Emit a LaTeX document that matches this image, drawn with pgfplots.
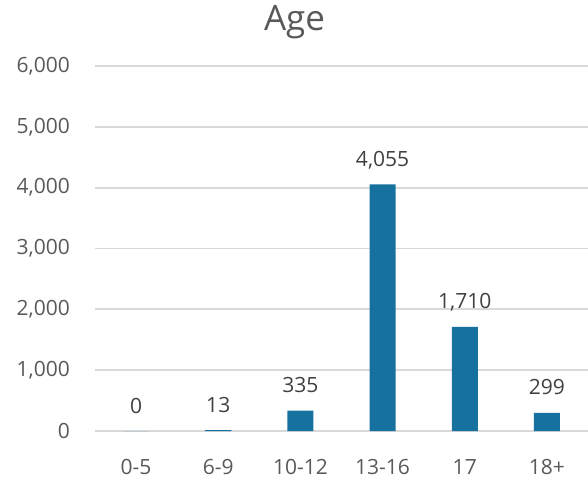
\documentclass[border=0pt]{standalone}
\usepackage{fontspec}
\setmainfont{Open Sans}
\usepackage{pgfplots}
\pgfplotsset{compat=1.18}
\definecolor{barblue}{RGB}{23,113,159}
\definecolor{gridgray}{RGB}{217,217,217}
\definecolor{ticktext}{RGB}{89,89,89}
\definecolor{labeltext}{RGB}{64,64,64}
\begin{document}
\begin{tikzpicture}
\useasboundingbox (-95pt,-49pt) rectangle (493pt,431pt);
\begin{axis}[
  at={(0,0)}, anchor=south west,
  scale only axis,
  width=493pt, height=365pt,
  xmin=-0.5, xmax=5.5,
  ymin=0, ymax=6000,
  ytick={0,1000,...,6000},
  xtick={0,1,2,3,4,5},
  xticklabels={0-5,6-9,10-12,13-16,17,18+},
  major tick length=0pt,
  axis line style={draw=none},
  ymajorgrids,
  grid style={gridgray, line width=1.7pt},
  /pgf/number format/assume math mode=true,
  /pgf/number format/1000 sep={,},
  tick label style={font=\fontsize{21}{24}\selectfont, text=ticktext, inner sep=0pt},
  yticklabel style={anchor=east, xshift=-25pt},
  xticklabel style={anchor=base, yshift=-43pt},
  title={Age},
  title style={font=\fontsize{35}{40}\selectfont, text=ticktext, at={(axis description cs:0.5,1)}, anchor=base, xshift=-47pt, yshift=30pt, inner sep=0pt},
  ybar, bar width=26pt,
  nodes near coords,
  nodes near coords style={font=\fontsize{21}{24}\selectfont, text=labeltext, anchor=base, yshift=18pt, inner sep=0pt, /pgf/number format/assume math mode=true, /pgf/number format/1000 sep={,}},
  clip=false,
]
\addplot[fill=barblue, draw=none] coordinates {(0,0) (1,13) (2,335) (3,4055) (4,1710) (5,299)};
\end{axis}
\end{tikzpicture}
\end{document}
